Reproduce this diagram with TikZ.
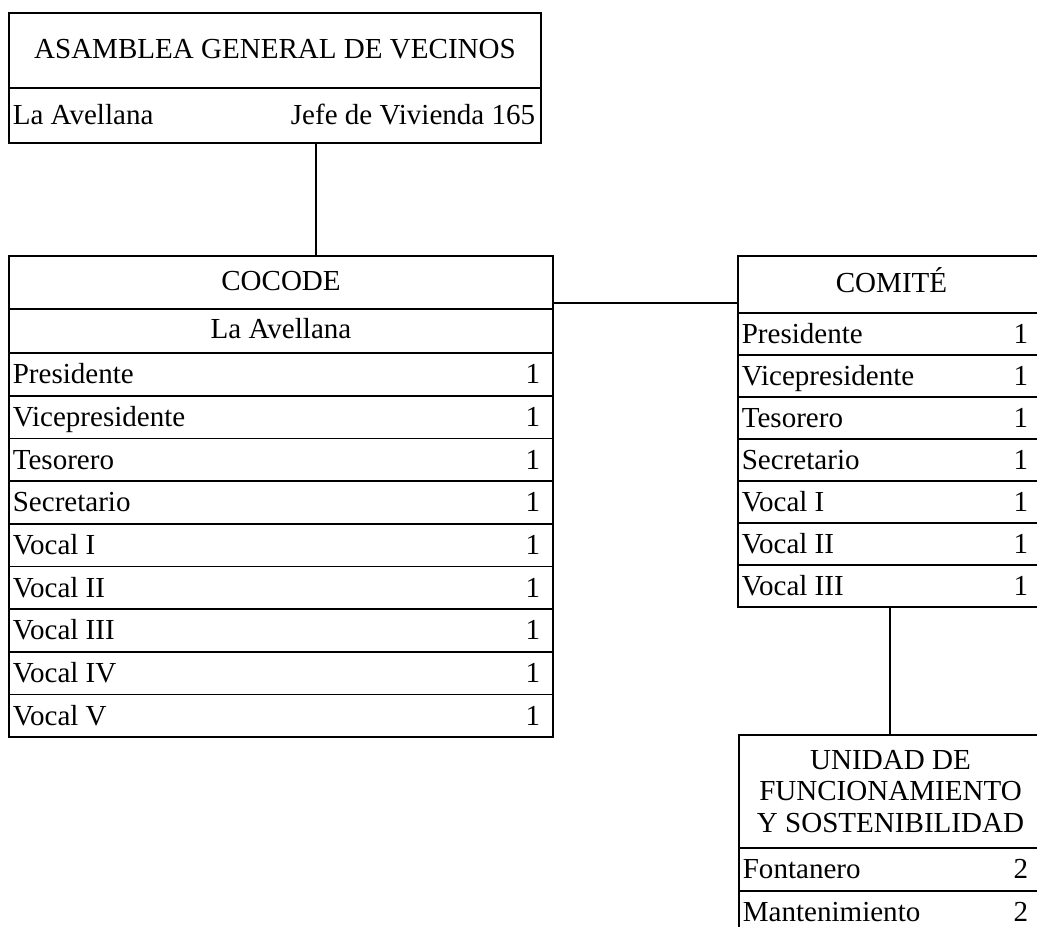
\documentclass[tikz,border=0pt]{standalone}
\usepackage{fontspec}
\setmainfont{Liberation Serif}
\usetikzlibrary{positioning}
\newcommand\pu{0.42pt}
\begin{document}
\begin{tikzpicture}[x=\pu,y=-\pu,line width=0.7pt,font=\fontsize{12.2}{13.2}\selectfont,
  cell/.style={draw,inner sep=0pt,outer sep=0pt,text height=0.662em,text depth=0pt},
  asamcell/.style={cell,minimum width=532*\pu},
  cococell/.style={cell,minimum width=544*\pu,minimum height=42.67*\pu},
  comicell/.style={cell,minimum width=307*\pu,minimum height=42*\pu},
  unidcell/.style={cell,minimum width=303*\pu,minimum height=43*\pu},
  tit/.style={draw,inner sep=0pt,outer sep=0pt,align=center},
  lft/.style={anchor=west,inner sep=0pt,text height=0.662em,text depth=0pt,xshift=3*\pu,yshift=-1.5*\pu},
  rgt/.style={anchor=east,inner sep=0pt,text height=0.662em,text depth=0pt,xshift=-#1*\pu,yshift=-1.5*\pu},
  rgt/.default=12]
\useasboundingbox (0,0) rectangle (1037,926);
\clip (0,0) rectangle (1037,926);
% asamblea
\node[asamcell,minimum height=75*\pu,anchor=north west] (asam) at (9,13) {ASAMBLEA GENERAL DE VECINOS};
\node[asamcell,minimum height=55*\pu,below=0pt of asam] (asamfila) {};
\node[lft] (asamlugar) at (asamfila.west) {La Avellana};
\node[rgt=5] (asamjefes) at (asamfila.east) {Jefe de Vivienda 165};
% cocode
\node[cococell,minimum height=53*\pu,anchor=north west] (cocode) at (9,256) {COCODE};
\node[cococell,minimum height=44*\pu,below=0pt of cocode] (cc0) {La Avellana};
\foreach \cargo [count=\i] in {Presidente,Vicepresidente,Tesorero,Secretario,Vocal I,Vocal II,Vocal III,Vocal IV,Vocal V}{
  \pgfmathtruncatemacro\j{\i-1}
  \node[cococell,below=0pt of cc\j] (cc\i) {};
  \node[lft] (ccn\i) at (cc\i.west) {\cargo};
  \node[rgt] (ccv\i) at (cc\i.east) {1};
}
% comite
\node[comicell,minimum height=57*\pu,anchor=north west] (cm0) at (738,256) {COMITÉ};
\foreach \cargo [count=\i] in {Presidente,Vicepresidente,Tesorero,Secretario,Vocal I,Vocal II,Vocal III}{
  \pgfmathtruncatemacro\j{\i-1}
  \node[comicell,below=0pt of cm\j] (cm\i) {};
  \node[lft] (cmn\i) at (cm\i.west) {\cargo};
  \node[rgt=16] (cmv\i) at (cm\i.east) {1};
}
% unidad
\node[tit,minimum width=303*\pu,minimum height=113*\pu,anchor=north west] (un0) at (739,735) {UNIDAD DE\\FUNCIONAMIENTO\\Y SOSTENIBILIDAD};
\foreach \cargo [count=\i] in {Fontanero,Mantenimiento}{
  \pgfmathtruncatemacro\j{\i-1}
  \node[unidcell,below=0pt of un\j] (un\i) {};
  \node[lft] (unn\i) at (un\i.west) {\cargo};
  \node[rgt=13] (unv\i) at (un\i.east) {2};
}
% enlaces
\coordinate (asampie) at (316,143);
\draw (asampie) -- (asampie |- cocode.north);
\coordinate (cocolado) at (553,303);
\draw (cocolado) -- (cocolado -| cm0.west);
\coordinate (comipie) at (890,607);
\draw (comipie) -- (comipie |- un0.north);
\end{tikzpicture}
\end{document}
